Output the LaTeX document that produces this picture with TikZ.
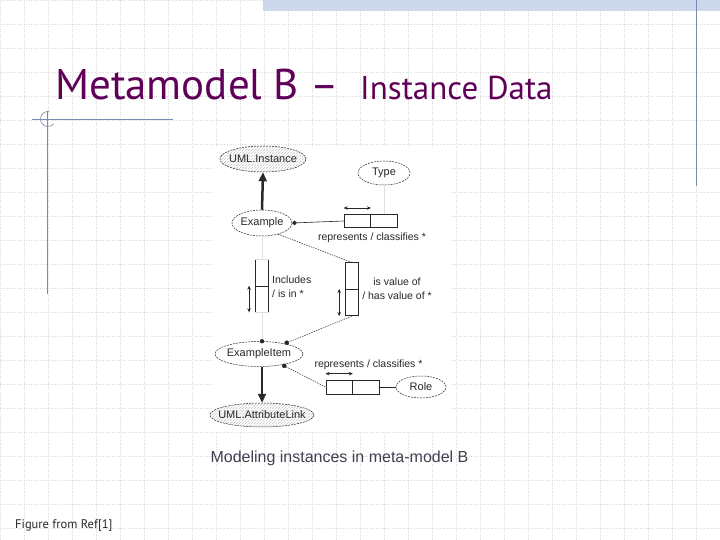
\documentclass[tikz,border=0pt]{standalone}
\usepackage{fontspec}
\setmainfont{Liberation Sans}
\newfontfamily\titlefont{PT Sans}
\usetikzlibrary{shapes.geometric,patterns,arrows.meta}
\definecolor{titlepurple}{RGB}{96,0,88}
\definecolor{decoblue}{RGB}{120,136,176}
\definecolor{bandblue}{RGB}{206,216,236}
\definecolor{captiongray}{RGB}{64,64,82}
\definecolor{inkgray}{RGB}{40,40,40}
\newcommand{\ctext}[1]{\makebox[0pt]{#1}}
\tikzset{
  gridline/.style={draw=gray!28, line width=0.6pt, dash pattern=on 1pt off 1.2pt},
  deco/.style={draw=decoblue, line width=0.8pt},
  entity/.style={ellipse, draw=inkgray, line width=0.5pt, dash pattern=on 2pt off 1pt,
    inner sep=0pt, font=\fontsize{11}{12}\selectfont, text=inkgray},
  metaclass/.style={entity, pattern=north east lines, pattern color=gray!45},
  hcell/.style={rectangle, draw=inkgray, line width=0.6pt, inner sep=0pt,
    minimum width=26.7pt, minimum height=13.4pt},
  vcell/.style={rectangle, draw=inkgray, line width=0.6pt, inner sep=0pt,
    minimum width=13pt, minimum height=26.5pt},
  lbl/.style={inner sep=0pt, font=\fontsize{10.5}{14}\selectfont, text=inkgray},
  isa/.style={draw=inkgray, line width=2.5pt, -{Triangle[length=9pt,width=8pt]}},
  assoc/.style={draw=inkgray, line width=0.6pt},
  weak/.style={draw=inkgray, line width=0.5pt, dash pattern=on 1.5pt off 1pt},
  faint/.style={draw=gray!25, line width=0.8pt},
  both/.style={draw=inkgray, line width=0.6pt,
    {Stealth[length=4pt,width=3.5pt]}-{Stealth[length=4pt,width=3.5pt]}}
}
\begin{document}
\begin{tikzpicture}[x=1pt,y=-1pt]
  \useasboundingbox (0,0) rectangle (720,540);
  % slide background
  \fill[white] (0,0) rectangle (720,540);
  \draw[gridline, step=24pt] (0,0) grid (720,540);
  \fill[bandblue] (263,0) rectangle (720,11);
  \draw[deco] (696,0) -- (696,186);
  \draw[deco] (32,119) -- (173,119);
  \draw[deco] (47,111) -- (47,294);
  \draw[deco, line width=0.6pt] (48,119) ++(80:7.5pt) arc[start angle=80, end angle=320, radius=7.5pt];
  % title
  \node[anchor=base west, inner sep=0pt, text=titlepurple,
    font=\titlefont\fontsize{43}{43}\selectfont] (title) at (55,100) {Metamodel B \textendash};
  \node[anchor=base west, inner sep=0pt, text=titlepurple,
    font=\titlefont\fontsize{33}{33}\selectfont] (subtitle) at (360,100) {Instance Data};
  % the figure
  \fill[white] (212,147) rectangle (450,432);
  \node[metaclass, minimum width=86pt, minimum height=26pt] (inst) at (263,159) {\ctext{UML.Instance}};
  \node[entity, minimum width=52pt, minimum height=24pt] (type) at (384,173) {\ctext{Type}};
  \node[entity, minimum width=60pt, minimum height=26pt] (ex) at (262,223) {\ctext{Example}};
  \node[entity, minimum width=88pt, minimum height=25pt] (item) at (259,354) {\ctext{ExampleItem}};
  \node[metaclass, minimum width=104pt, minimum height=24pt] (link) at (262,415) {\ctext{UML.AttributeLink}};
  \node[entity, minimum width=50pt, minimum height=22pt] (role) at (421,387) {\ctext{Role}};
  \node[hcell] (rep1a) at (357.3,221) {};
  \node[hcell] (rep1b) at (384,221) {};
  \node[hcell, minimum height=14pt] (rep2a) at (339.2,387) {};
  \node[hcell, minimum height=14pt] (rep2b) at (365.8,387) {};
  \node[vcell] (val1) at (352,276) {};
  \node[vcell] (val2) at (352,302.5) {};
  \node[vcell, draw=none, minimum width=13.3pt, minimum height=26pt] (inc1) at (262,273) {};
  \node[vcell, draw=none, minimum width=13.3pt, minimum height=26pt] (inc2) at (262,299) {};
  \begin{scope}
    \draw[faint] (ex.south) -- (inc1.north);
    \draw[faint] (inc2.south) -- (inc2.south |- item.north);
    \draw[faint] (type.south) -- (type.south |- rep1b.north);
    \draw[faint] (inc1.north west) -- (inc1.north east);
    \draw[faint] (inc2.south west) -- (inc2.south east);
    \draw[inkgray, line width=1pt] (inc1.north west) -- (inc2.south west);
    \draw[inkgray, line width=1pt] (inc1.north east) -- (inc2.south east);
    \draw[assoc] (inc1.south west) -- (inc1.south east);
    \fill[inkgray] (inc2.south |- item.north) circle (2.2pt);
  \end{scope}
  \draw[isa] (ex.north) -- (inst.south);
  \draw[isa] (item.south -| link.north) -- (link.north);
  \draw[assoc, {Circle[length=4.5pt]}-] (ex.east) -- (rep1a.west);
  \draw[weak] (ex.-35) -- (val1.north);
  \draw[weak, -{Circle[length=4.5pt]}] (val2.south) -- (item.22);
  \draw[weak, {Circle[length=4.5pt]}-] (item.-25) -- (rep2a.west);
  \draw[assoc] (rep2b.east) -- (role.west);
  \draw[both] ([yshift=6pt]rep1a.north west) -- ([yshift=6pt]rep1a.north east);
  \draw[both] ([yshift=6pt]rep2a.north west) -- ([yshift=6pt]rep2a.north east);
  \draw[both] ([xshift=-6pt]val2.north west) -- ([xshift=-6pt]val2.south west);
  \draw[both] ([xshift=-6pt]inc2.north west) -- ([xshift=-6pt]inc2.south west);
  \node[lbl] (repl1) at (372,238) {represents / classifies *};
  \node[lbl] (repl2) at (368.5,365) {represents / classifies *};
  \node[lbl, align=left, anchor=west] (incl) at (272,286.3) {Includes\\/ is in *};
  \node[lbl, align=center] (vall) at (397,288.3) {is value of\\/ has value of *};
  % captions
  \node[inner sep=0pt, text=captiongray, font=\fontsize{16}{16}\selectfont] (caption) at (339.5,458) {Modeling instances in meta-model B};
  \node[anchor=base west, inner sep=0pt, text=inkgray, font=\titlefont\fontsize{12.5}{12.5}\selectfont] (source) at (15,528) {Figure from Ref[1]};
\end{tikzpicture}
\end{document}
